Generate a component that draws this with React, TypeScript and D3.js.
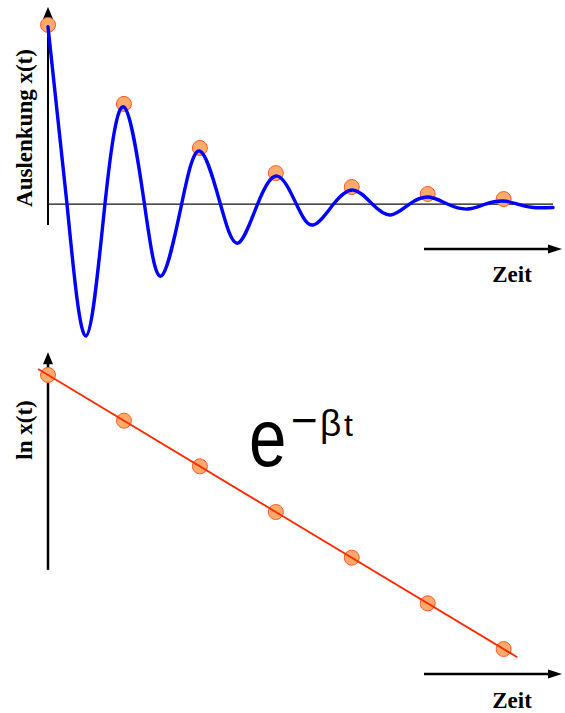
import React from "react";
import * as d3 from "d3";

// Damped oscillation: extrema and zero crossings (time in periods, displacement in % of start)
const curveT = [0, 0.25, 0.5, 0.75, 1.0, 1.27, 1.49, 1.76, 2.0, 2.27, 2.5, 2.76, 3.02, 3.27, 3.49, 3.76, 4.02, 4.27, 4.51, 4.76, 5.01, 5.26, 5.52, 5.76, 5.99, 6.18, 6.39, 6.65];
const curveX = [99, 0, -73.7, 0, 54.2, 0, -40.2, 0, 29.6, 0, -21.8, 0, 15.6, 0, -11.7, 0, 7.8, 0, -6.1, 0, 3.9, 0, -2.8, 0, 1.7, 0, -1.9, -1.9];

// Envelope markers at each period
const peakT = [0, 1, 2, 3, 4, 5, 6];
const peakX = [100, 55.9, 31.3, 17.3, 9.5, 5.6, 2.8];

// Logarithm of the peak amplitudes
const lnT = [0, 1, 2, 3, 4, 5, 6];
const lnX = [4.6, 4.0, 3.4, 2.8, 2.2, 1.6, 1.0];

// Straight-line fit ln x = a + b t
const fitIntercept = 4.6;
const fitSlope = -0.6;
const fitRange = [-0.13, 6.18];

const W = 565;
const H = 713;

const serif = "'Liberation Serif', 'Times New Roman', serif";
const sans = "'Liberation Sans', Arial, sans-serif";

const dotFill = "#ffab6b";
const dotStroke = "#ff5a2a";

export default function App() {
  // top panel
  const xTop = d3.scaleLinear().domain([0, 6.65]).range([48, 553]);
  const yTop = d3.scaleLinear().domain([-11.7, 110]).range([225, 7]);
  // bottom panel
  const xBot = d3.scaleLinear().domain([0, 6.65]).range([48, 553]);
  const yBot = d3.scaleLinear().domain([1, 4.6]).range([649, 375]);

  const wave = d3
    .line<number>()
    .x((_, i) => xTop(curveT[i]))
    .y((d) => yTop(d))
    .curve(d3.curveNatural)(curveX) as string;

  const fitLine = d3
    .line<number>()
    .x((t) => xBot(t))
    .y((t) => yBot(fitIntercept + fitSlope * t))(fitRange) as string;

  const upArrow = (x: number, y: number) =>
    `M${x},${y} L${x - 5},${y + 12} L${x + 5},${y + 12} Z`;
  const rightArrow = (x: number, y: number) =>
    `M${x},${y} L${x - 14},${y - 4.5} L${x - 14},${y + 4.5} Z`;

  const topAxisTop = yTop(110);
  const botAxisTop = yBot(4.9);

  return (
    <svg
      width={W}
      height={H}
      style={{ position: "absolute", left: 0, top: 0, background: "#fff" }}
    >
      {/* ---------- top panel: x(t) ---------- */}
      <line x1={xTop(0)} x2={xTop(0)} y1={yTop(-11.7)} y2={topAxisTop + 8} stroke="#000" strokeWidth={2} />
      <path d={upArrow(xTop(0), topAxisTop)} fill="#000" />
      <line x1={xTop(0)} x2={xTop(6.65)} y1={yTop(0)} y2={yTop(0)} stroke="#111" strokeWidth={1.2} />

      {peakT.map((t, i) => (
        <circle key={"p" + i} cx={xTop(t)} cy={yTop(peakX[i])} r={7.5} fill={dotFill} stroke={dotStroke} strokeWidth={1} />
      ))}
      <path d={wave} fill="none" stroke="#0000ff" strokeWidth={3.4} strokeLinejoin="round" strokeLinecap="round" />

      <line x1={424} x2={550} y1={249} y2={249} stroke="#000" strokeWidth={2.5} />
      <path d={rightArrow(562, 249)} fill="#000" />
      <text x={512} y={282} textAnchor="middle" fontFamily={serif} fontWeight="bold" fontSize={23}>
        Zeit
      </text>
      <text
        transform={`translate(32,128) rotate(-90)`}
        textAnchor="middle"
        fontFamily={serif}
        fontWeight="bold"
        fontSize={23}
      >
        Auslenkung x(t)
      </text>

      {/* ---------- bottom panel: ln x(t) ---------- */}
      <line x1={xBot(0)} x2={xBot(0)} y1={yBot(2.04)} y2={botAxisTop + 8} stroke="#000" strokeWidth={2.5} />
      <path d={upArrow(xBot(0), botAxisTop)} fill="#000" />

      {lnT.map((t, i) => (
        <circle key={"l" + i} cx={xBot(t)} cy={yBot(lnX[i])} r={7.5} fill={dotFill} stroke={dotStroke} strokeWidth={1} />
      ))}
      <path d={fitLine} fill="none" stroke="#ff2a00" strokeWidth={1.8} />

      <line x1={424} x2={550} y1={674} y2={674} stroke="#000" strokeWidth={2.5} />
      <path d={rightArrow(562, 674)} fill="#000" />
      <text x={512} y={708} textAnchor="middle" fontFamily={serif} fontWeight="bold" fontSize={23}>
        Zeit
      </text>
      <text
        transform={`translate(32,430) rotate(-90)`}
        textAnchor="middle"
        fontFamily={serif}
        fontWeight="bold"
        fontSize={23}
      >
        ln x(t)
      </text>

      {/* decay law e^(−βt) */}
      <text transform="translate(249,466) scale(0.83,1)" fontFamily={sans} fontSize={81}>
        e
      </text>
      <text y={436} fontFamily={sans}>
        <tspan x={291} fontSize={46}>−</tspan>
        <tspan x={320} fontSize={37}>β</tspan>
        <tspan x={344} fontSize={32}>t</tspan>
      </text>
    </svg>
  );
}
